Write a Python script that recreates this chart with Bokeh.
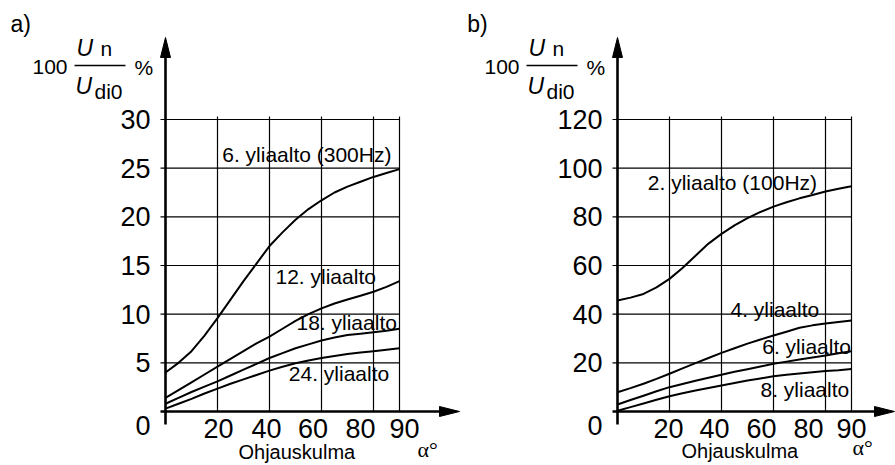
from bokeh.plotting import figure
from bokeh.models import Range1d
from bokeh.embed import file_html
from bokeh.resources import INLINE
from bokeh.core.properties import value

# ---------------- data ----------------
alpha = [0, 5, 10, 15, 20, 25, 30, 35, 40, 45, 50, 55, 60, 65, 70, 75, 80, 85, 90]

# panel a) harmonic amplitude 100*Un/Udi0 (%)
a_h6 = [4.0, 5.0, 6.2, 7.8, 9.6, 11.5, 13.4, 15.2, 17.0, 18.4, 19.7, 20.8, 21.7, 22.5, 23.1, 23.6, 24.1, 24.5, 24.9]
a_h12 = [1.4, 2.2, 3.0, 3.8, 4.6, 5.4, 6.2, 7.0, 7.7, 8.5, 9.3, 10.0, 10.6, 11.1, 11.5, 11.9, 12.3, 12.8, 13.4]
a_h18 = [0.8, 1.4, 2.0, 2.55, 3.1, 3.7, 4.3, 4.9, 5.5, 6.0, 6.5, 6.9, 7.3, 7.6, 7.85, 8.0, 8.15, 8.3, 8.5]
a_h24 = [0.3, 0.8, 1.3, 1.85, 2.35, 2.85, 3.3, 3.75, 4.2, 4.6, 4.95, 5.25, 5.5, 5.7, 5.9, 6.05, 6.2, 6.35, 6.5]

# panel b)
b_h2 = [45.6, 46.8, 48.3, 51.0, 54.5, 59.0, 64.0, 69.0, 73.0, 76.5, 79.5, 82.0, 84.2, 86.0, 87.6, 89.0, 90.4, 91.5, 92.6]
b_h4 = [7.9, 9.6, 11.4, 13.4, 15.5, 17.7, 19.9, 22.0, 24.1, 26.0, 27.9, 29.6, 31.2, 32.8, 34.4, 35.4, 36.2, 36.8, 37.4]
b_h6 = [2.9, 4.7, 6.5, 8.3, 10.0, 11.3, 12.6, 13.9, 15.1, 16.3, 17.4, 18.5, 19.6, 20.5, 21.4, 22.2, 23.0, 23.9, 24.8]
b_h8 = [0.3, 1.8, 3.3, 4.8, 6.3, 7.5, 8.6, 9.7, 10.7, 11.7, 12.7, 13.6, 14.5, 15.1, 15.6, 16.1, 16.6, 17.0, 17.5]

x_ticks = [20, 40, 60, 80, 90]
a_y_ticks = [0, 5, 10, 15, 20, 25, 30]
b_y_ticks = [0, 20, 40, 60, 80, 100, 120]

a_labels = ["6. yliaalto (300Hz)", "12. yliaalto", "18. yliaalto", "24. yliaalto"]
b_labels = ["2. yliaalto (100Hz)", "4. yliaalto", "6. yliaalto", "8. yliaalto"]
x_title = "Ohjauskulma"
x_unit = "\u03b1\u00b0"

# ---------------- layout (screen pixels) ----------------
W, H = 895, 465
Y0 = 411          # screen y of value 0
YTOP = 119        # screen y of the top grid line
PXX = 2.6         # pixels per degree
FONT = value("Liberation Sans")

panels = [
    dict(name="default", X0=165, ticks=a_y_ticks, series=[a_h6, a_h12, a_h18, a_h24],
         labels=a_labels, lab_px=[(221.7, 154.3), (275, 276), (296, 321.6), (288.3, 373.3)],
         xlab_px=[218, 266, 312.5, 360, 404],
         tag="a)", tag_px=(10, 23), title_px=(238, 451), unit_px=(417, 449), xtip=459),
    dict(name="b", X0=617, ticks=b_y_ticks, series=[b_h2, b_h4, b_h6, b_h8],
         labels=b_labels, lab_px=[(647.3, 182), (730, 308.6), (761.7, 346), (760, 388.6)],
         xlab_px=[668, 714, 761, 808, 851],
         tag="b)", tag_px=(466.7, 23), title_px=(681, 450), unit_px=(852, 447), xtip=894),
]
for pn in panels:
    pn["SY"] = (Y0 - YTOP) / pn["ticks"][-1]

pa, pb = panels
p = figure(width=W, height=H, output_backend="svg", toolbar_location=None,
           x_axis_location=None, y_axis_location=None,
           x_range=Range1d(-pa["X0"] / PXX, (W - pa["X0"]) / PXX),
           y_range=Range1d(-(H - Y0) / pa["SY"], Y0 / pa["SY"]),
           min_border_left=0, min_border_right=0, min_border_top=0, min_border_bottom=0)
p.extra_x_ranges = {"b": Range1d(-pb["X0"] / PXX, (W - pb["X0"]) / PXX)}
p.extra_y_ranges = {"b": Range1d(-(H - Y0) / pb["SY"], Y0 / pb["SY"])}
p.xgrid.visible = False
p.ygrid.visible = False
p.outline_line_color = None
p.background_fill_color = "white"
p.border_fill_color = "white"


def txt(kw, x, y, t, size, align="left", style="normal", font=FONT):
    p.text(x=x, y=y, text=t, text_font=font, text_font_size=value(size),
           text_align=align, text_baseline="middle", text_font_style=style,
           text_color="black", **kw)


for pn in panels:
    X0, SY = pn["X0"], pn["SY"]
    kw = dict(x_range_name=pn["name"], y_range_name=pn["name"])

    def dx(px):
        return (px - X0) / PXX

    def dy(py):
        return (Y0 - py) / SY

    yt = pn["ticks"]
    ymax = yt[-1]
    xmax = x_ticks[-1]

    # grid
    p.segment(x0=x_ticks, y0=[0] * len(x_ticks), x1=x_ticks, y1=[dy(YTOP - 3)] * len(x_ticks),
              line_color="black", line_width=1.2, **kw)
    p.segment(x0=[dx(X0 - 5)] * (len(yt) - 1), y0=yt[1:], x1=[xmax] * (len(yt) - 1), y1=yt[1:],
              line_color="black", line_width=1.2, **kw)

    # curves
    for ys in pn["series"]:
        p.line(alpha, ys, line_color="black", line_width=2, **kw)

    # axes with arrow heads
    p.segment(x0=[0], y0=[dy(Y0 + 13)], x1=[0], y1=[dy(37 + 18)],
              line_color="black", line_width=2.6, **kw)
    p.patch(x=[dx(X0 - 5), 0, dx(X0 + 5)], y=[dy(57), dy(37), dy(57)],
            fill_color="black", line_color="black", line_width=1, **kw)
    p.segment(x0=[dx(X0 - 5)], y0=[0], x1=[dx(pn["xtip"] - 18)], y1=[0],
              line_color="black", line_width=2.6, **kw)
    p.patch(x=[dx(pn["xtip"] - 20), dx(pn["xtip"]), dx(pn["xtip"] - 20)],
            y=[dy(Y0 - 5), 0, dy(Y0 + 5)],
            fill_color="black", line_color="black", line_width=1, **kw)

    # y tick labels
    ylab_y = [t if t != 0 else dy(Y0 + 13.5) for t in yt]
    txt(kw, [dx(X0 - 15)] * len(yt), ylab_y, [str(t) for t in yt], "27px", align="right")
    # x tick labels
    txt(kw, [dx(c) for c in pn["xlab_px"]], [dy(427.5)] * len(x_ticks),
        [str(t) for t in x_ticks], "27px", align="center")

    # curve labels
    txt(kw, [dx(a) for a, b in pn["lab_px"]], [dy(b) for a, b in pn["lab_px"]],
        pn["labels"], "21px")

    # axis titles
    txt(kw, [dx(pn["title_px"][0])], [dy(pn["title_px"][1])], [x_title], "20px")
    txt(kw, [dx(pn["unit_px"][0])], [dy(pn["unit_px"][1])], [x_unit], "22px",
        font=value("Liberation Serif"))
    txt(kw, [dx(pn["tag_px"][0])], [dy(pn["tag_px"][1])], [pn["tag"]], "23px")

    # y axis quantity: 100 * Un / Udi0 %
    txt(kw, [dx(X0 - 133)], [dy(66.7)], ["100"], "21px")
    txt(kw, [dx(X0 - 89)], [dy(47)], ["U"], "23px", style="italic")
    txt(kw, [dx(X0 - 65)], [dy(47.6)], ["n"], "21px")
    p.segment(x0=[dx(X0 - 91)], y0=[dy(65)], x1=[dx(X0 - 40)], y1=[dy(65)],
              line_color="black", line_width=1.6, **kw)
    txt(kw, [dx(X0 - 90)], [dy(85)], ["U"], "23px", style="italic")
    txt(kw, [dx(X0 - 71)], [dy(90.6)], ["di0"], "21px")
    txt(kw, [dx(X0 - 31)], [dy(67)], ["%"], "21px")

open("out.html", "w").write(file_html(p, INLINE))
